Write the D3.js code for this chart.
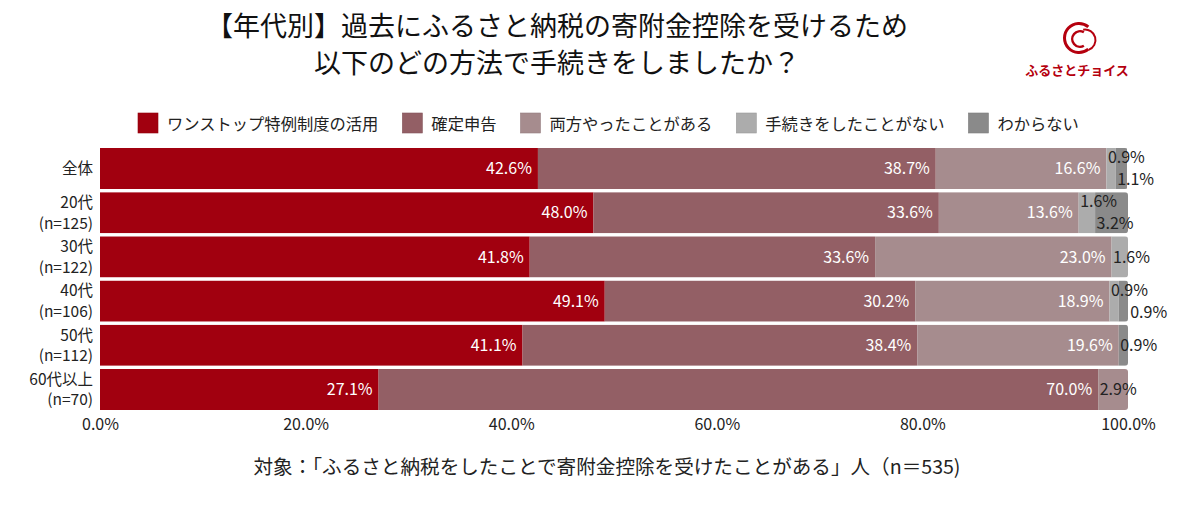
<!DOCTYPE html>
<html><head><meta charset="utf-8">
<script src="https://cdn.jsdelivr.net/npm/d3@7"></script>
<style>
html,body{margin:0;padding:0;background:#fff;}
svg{display:block;font-family:"Noto Sans CJK JP","Noto Sans",sans-serif;}
</style></head>
<body>
<svg id="chart" width="1200" height="519"></svg>
<script>
const titleLines = ["【年代別】過去にふるさと納税の寄附金控除を受けるため", "以下のどの方法で手続きをしましたか？"];
const categories = ["全体", "20代\n(n=125)", "30代\n(n=122)", "40代\n(n=106)", "50代\n(n=112)", "60代以上\n(n=70)"];
const seriesNames = ["ワンストップ特例制度の活用", "確定申告", "両方やったことがある", "手続きをしたことがない", "わからない"];
const onestop = [42.6, 48.0, 41.8, 49.1, 41.1, 27.1];
const kakutei  = [38.7, 33.6, 33.6, 30.2, 38.4, 70.0];
const ryoho    = [16.6, 13.6, 23.0, 18.9, 19.6, 2.9];
const nashi    = [0.9, 1.6, 1.6, 0.9, 0, 0];
const wakaranai= [1.1, 3.2, 0, 0.9, 0.9, 0];
const xTicks = [0, 20, 40, 60, 80, 100];
const footnote = "対象：「ふるさと納税をしたことで寄附金控除を受けたことがある」人（n＝535)";
const colors = ["#a1000f", "#935f65", "#a68c8e", "#acacac", "#8a8a8a"];

const series = [onestop, kakutei, ryoho, nashi, wakaranai];
const svg = d3.select("#chart");
const FONT = '"Noto Sans CJK JP","Noto Sans",sans-serif';
const bottomLabelShift = {"40代\n(n=106)": 10};

// Title
svg.append("g").selectAll("text").data(titleLines).join("text")
  .attr("x", 557).attr("y", (d,i)=> 36 + i*37)
  .attr("text-anchor","middle").attr("font-size", 27).attr("fill","#111")
  .text(d=>d);

// Logo
const red = "#b5000e";
const logo = svg.append("g").attr("transform","translate(1079,38)");
const arcG = d3.arc();
const deg = Math.PI/180;
logo.append("path").attr("d", arcG({innerRadius:13, outerRadius:16, startAngle:140*deg, endAngle:400*deg})).attr("fill",red);
logo.append("path").attr("d", arcG({innerRadius:6.5, outerRadius:9, startAngle:150*deg, endAngle:390*deg})).attr("fill",red).attr("transform","translate(1,1)");
logo.append("path").attr("d", arcG({innerRadius:9.5, outerRadius:11.5, startAngle:-10*deg, endAngle:160*deg})).attr("fill",red).attr("transform","translate(6,2)");
svg.append("text").attr("x",1077).attr("y",75).attr("text-anchor","middle")
  .attr("font-size",13).attr("font-weight","bold").attr("fill",red).text("ふるさとチョイス");

// Legend
const legend = svg.append("g");
let lx = 138;
seriesNames.forEach((name,i)=>{
  legend.append("rect").attr("x",lx).attr("y",113).attr("width",20).attr("height",20)
    .attr("fill",colors[i]).attr("stroke", d3.color(colors[i]).darker(0.3)).attr("stroke-width",0.6);
  const t = legend.append("text").attr("x",lx+29).attr("y",129.5).attr("font-size",16.3).attr("fill","#222").text(name);
  const w = t.node().getComputedTextLength();
  lx = lx + 29 + w + 24;
});

// Scales
const x = d3.scaleLinear().domain([0,100]).range([100,1128]);
const y = d3.scaleBand().domain(categories).range([148,410]).paddingInner(0.07).paddingOuter(0);

// Stack
const rows = categories.map((c,i)=>{ const o={cat:c}; seriesNames.forEach((s,j)=>o[s]=series[j][i]); return o; });
const stacked = d3.stack().keys(seriesNames)(rows);

const defs = svg.append("defs");
categories.forEach((c,i)=>{
  defs.append("clipPath").attr("id","clip"+i).append("rect")
    .attr("x", x(0)-6).attr("y", y(c)).attr("width", x(100)-x(0)+6).attr("height", y.bandwidth()).attr("rx",3);
});

const barG = svg.append("g");
categories.forEach((c,i)=>{
  const g = barG.append("g").attr("clip-path","url(#clip"+i+")");
  stacked.forEach((layer,j)=>{
    const d = layer[i];
    if (d[1]-d[0] <= 0) return;
    g.append("rect").attr("x", x(d[0])).attr("y", y(c)).attr("width", x(d[1])-x(d[0])).attr("height", y.bandwidth())
      .attr("fill", colors[j]);
  });
});

// Labels
const labG = svg.append("g").attr("font-size",16);
categories.forEach((c,i)=>{
  const small = [];
  stacked.forEach((layer,j)=>{
    const d = layer[i]; const v = d[1]-d[0];
    if (v <= 0) return;
    if (v >= 5) {
      labG.append("text").attr("x", x(d[1])-6).attr("y", y(c)+y.bandwidth()/2).attr("dy","0.36em")
        .attr("text-anchor","end").attr("fill","#fff").text(v.toFixed(1)+"%");
    } else small.push({d, v});
  });
  small.forEach((s,k)=>{
    let yy = y(c)+y.bandwidth()/2;
    if (small.length===2) yy += (k===0 ? -11 : 11);
    let xx = x(s.d[0]) + 1.5;
    if (small.length===2 && k===1) xx += (bottomLabelShift[c] || 0);
    labG.append("text").attr("x", xx).attr("y", yy).attr("dy","0.36em")
      .attr("text-anchor","start").attr("fill","#222").text(s.v.toFixed(1)+"%");
  });
});

// Y axis labels
const yl = svg.append("g").attr("font-size",15.5).attr("fill","#222");
categories.forEach(c=>{
  const parts = c.split("\n");
  const cy = y(c)+y.bandwidth()/2;
  parts.forEach((p,k)=>{
    yl.append("text").attr("x",93).attr("y", cy + (k - (parts.length-1)/2)*20.5).attr("dy","0.36em")
      .attr("text-anchor","end").text(p);
  });
});

// X axis
const xAxis = d3.axisBottom(x).tickValues(xTicks).tickFormat(d=>d.toFixed(1)+"%").tickSize(0).tickPadding(0);
const ax = svg.append("g").attr("transform","translate(0,419)").call(xAxis);
ax.select(".domain").remove();
ax.selectAll("text").attr("font-size",16).attr("fill","#222").attr("font-family",FONT);

// Footnote
svg.append("text").attr("x",607).attr("y",474).attr("text-anchor","middle").attr("font-size",19.6).attr("fill","#222").text(footnote);
</script>
</body></html>
